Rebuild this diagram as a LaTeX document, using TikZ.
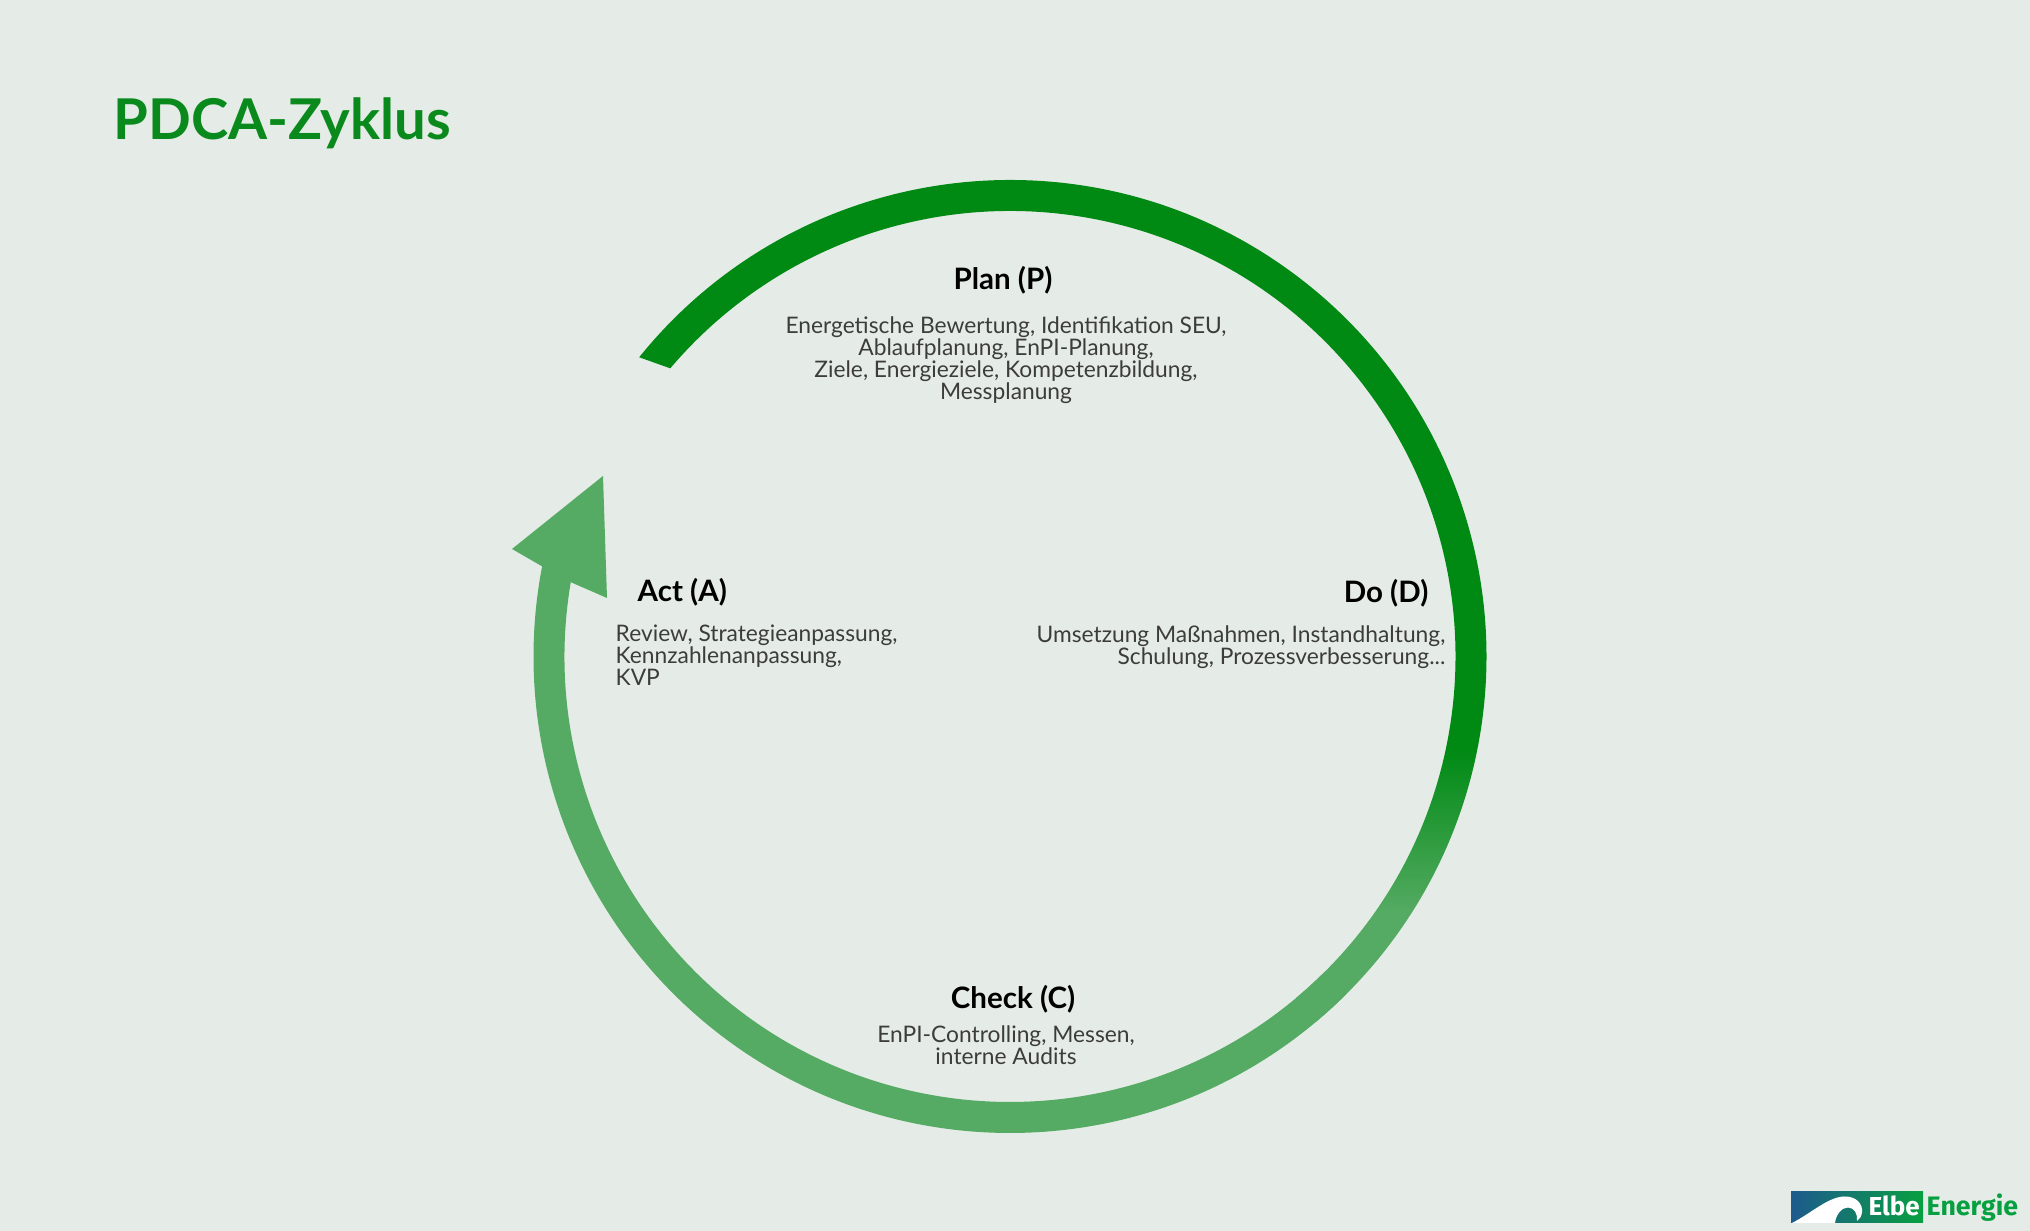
\documentclass[tikz,border=0pt]{standalone}
\usepackage{fontspec}
\setmainfont{Lato}
\newfontfamily\logofont{Fira Sans}
\usetikzlibrary{positioning}
\usetikzlibrary{calc}
\definecolor{paper}{HTML}{E5ECE7}
\definecolor{ringdark}{HTML}{008A14}
\definecolor{ringlight}{HTML}{55AB63}
\definecolor{titlegreen}{HTML}{0A8A1C}
\definecolor{bodygray}{HTML}{3C3C3C}
\definecolor{logoblue}{HTML}{1D5A8E}
\definecolor{logogreen}{HTML}{07A040}
\pgfdeclareverticalshading{ringfade}{100bp}{color(0bp)=(ringlight); color(31bp)=(ringlight); color(40bp)=(ringdark); color(100bp)=(ringdark)}
\tikzset{heading/.style = {inner sep=0, text=black, font=\fontsize{8.4}{10}\selectfont\bfseries},
         bodytext/.style = {inner sep=0, text=bodygray, font=\fontsize{6.48}{6.26}\selectfont}}

\begin{document}
\begin{tikzpicture}
    \fill [paper] (0, 0) rectangle (20.30, 12.31);
    \node [inner sep=0, anchor=base west, text=titlegreen, font=\fontsize{16}{18}\selectfont\bfseries] (title) at (1.13, 10.915) {PDCA-Zyklus};

    \coordinate (center) at (10.10, 5.745);
    % lower part with the arrow head
    \fill [ringlight] (center) ++(-45:4.765) arc [start angle=-45, end angle=-190.9, radius=4.765]
      -- (5.12, 6.82) -- (6.03, 7.55) -- (6.07, 6.33)
      -- ($(center)+(170.4:4.455)$) arc [start angle=170.4, end angle=315, radius=4.455] -- cycle;
    % upper part, fading out towards the bottom
    \shade [shading=ringfade] (center) ++(141.1:4.765) arc [start angle=141.1, end angle=-50, radius=4.765]
      -- ($(center)+(-50:4.455)$) arc [start angle=-50, end angle=139.7, radius=4.455] -- cycle;

    \node [heading] (plan) at (10.03, 9.51) {Plan (P)};
    \node [bodytext, align=center, anchor=north] (plantext) at (10.06, 9.15) {Energetische Bewertung, Identifikation SEU,\\Ablaufplanung, EnPI-Planung,\\Ziele, Energieziele, Kompetenzbildung,\\Messplanung};
    \node [heading, anchor=east] (do) at (14.29, 6.38) {Do (D)};
    \node [bodytext, align=right, anchor=north east] (dotext) at (14.46, 6.06) {Umsetzung Maßnahmen, Instandhaltung,\\Schulung, Prozessverbesserung...};
    \node [heading, anchor=west] (act) at (6.37, 6.39) {Act (A)};
    \node [bodytext, align=left, anchor=north west] (acttext) at (6.15, 6.07) {Review, Strategieanpassung,\\Kennzahlenanpassung,\\KVP};
    \node [heading] (check) at (10.13, 2.32) {Check (C)};
    \node [bodytext, align=center, anchor=north] (checktext) at (10.06, 2.06) {EnPI-Controlling, Messen,\\interne Audits};

    % logo
    \shade [left color=logoblue, right color=logogreen] (17.91, 0.08) rectangle (19.23, 0.39);
    \fill [white] (17.92, 0.08) .. controls (18.10, 0.17) and (18.28, 0.34) .. (18.44, 0.345)
      .. controls (18.56, 0.35) and (18.63, 0.27) .. (18.62, 0.19)
      .. controls (18.615, 0.15) and (18.60, 0.12) .. (18.57, 0.10)
      .. controls (18.58, 0.17) and (18.54, 0.235) .. (18.48, 0.235)
      .. controls (18.42, 0.235) and (18.36, 0.17) .. (18.35, 0.08) -- cycle;
    \node [inner sep=0, anchor=base west, text=white, font=\fontsize{7.4}{9}\logofont\bfseries] (elbe) at (18.68, 0.15) {Elbe};
    \node [inner sep=0, anchor=base west, text=logogreen, font=\fontsize{7.6}{9}\logofont\bfseries] (energie) at (19.26, 0.15) {Energie};
\end{tikzpicture}
\end{document}
